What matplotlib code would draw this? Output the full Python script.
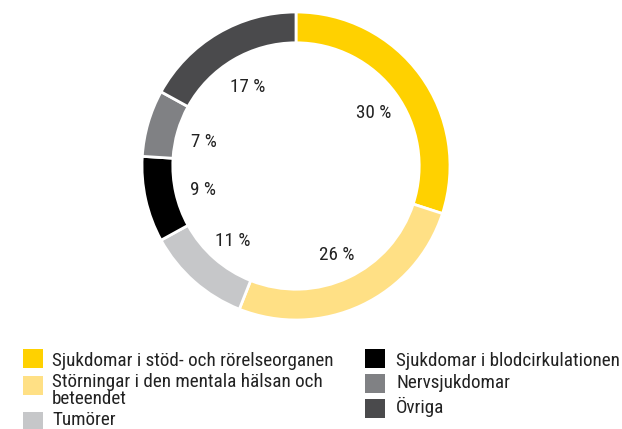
import matplotlib
matplotlib.use("Agg")
import matplotlib.pyplot as plt
from matplotlib.patches import Rectangle

plt.rcParams['font.family'] = ['Roboto Condensed', 'Archivo Narrow', 'DejaVu Sans']

# andel per diagnosgrupp (medurs från klockan 12)
labels = ["Sjukdomar i stöd- och rörelseorganen",
          "Störningar i den mentala hälsan och\nbeteendet",
          "Tumörer",
          "Sjukdomar i blodcirkulationen",
          "Nervsjukdomar",
          "Övriga"]
values = [30, 26, 11, 9, 7, 17]
colors = ["#FFD100", "#FFE085", "#C6C7C9", "#000000", "#808184", "#4A4A4C"]

W, H = 622, 429
TXT = "#222222"
FS = 13.8
fig = plt.figure(figsize=(W / 100, H / 100), dpi=100)

# ringdiagram
ax = fig.add_axes([142 / W, (H - 320) / H, 308 / W, 308 / H])
wedges, texts = ax.pie(values, colors=colors, startangle=90, counterclock=False,
                       radius=1, wedgeprops=dict(width=0.2, edgecolor="white", linewidth=2),
                       labels=[f"{v} %" for v in values], labeldistance=0.62,
                       textprops=dict(fontsize=FS, color=TXT))
for t in texts:
    t.set_horizontalalignment("center")
    t.set_verticalalignment("center")
    t.set_y(t.get_position()[1] - 0.02)  # procenttexterna sitter en aning lägre
ax.set_xlim(-1, 1)
ax.set_ylim(-1, 1)
ax.set_aspect("auto")
ax.axis("off")

# förklaring, två kolumner: (ruta x, text x) och (rutans mitt y, sista radens baslinje y)
cols = [(23, 52), (365, 396)]
rows = [(0, 358.5, 366), (0, 385.5, 404), (0, 421, 425),
        (1, 358.5, 366), (1, 383, 388), (1, 408, 413)]
sw, sh = 20, 19
for (col, yc, yb), lab, c in zip(rows, labels, colors):
    xs, xt = cols[col]
    fig.add_artist(Rectangle((xs / W, (H - yc - sh / 2) / H), sw / W, sh / H,
                             transform=fig.transFigure, facecolor=c, edgecolor="none"))
    fig.text(xt / W, (H - yb) / H, lab, fontsize=FS, color=TXT,
             ha="left", va="baseline", linespacing=0.9)

fig.savefig("out.png", dpi=100)
